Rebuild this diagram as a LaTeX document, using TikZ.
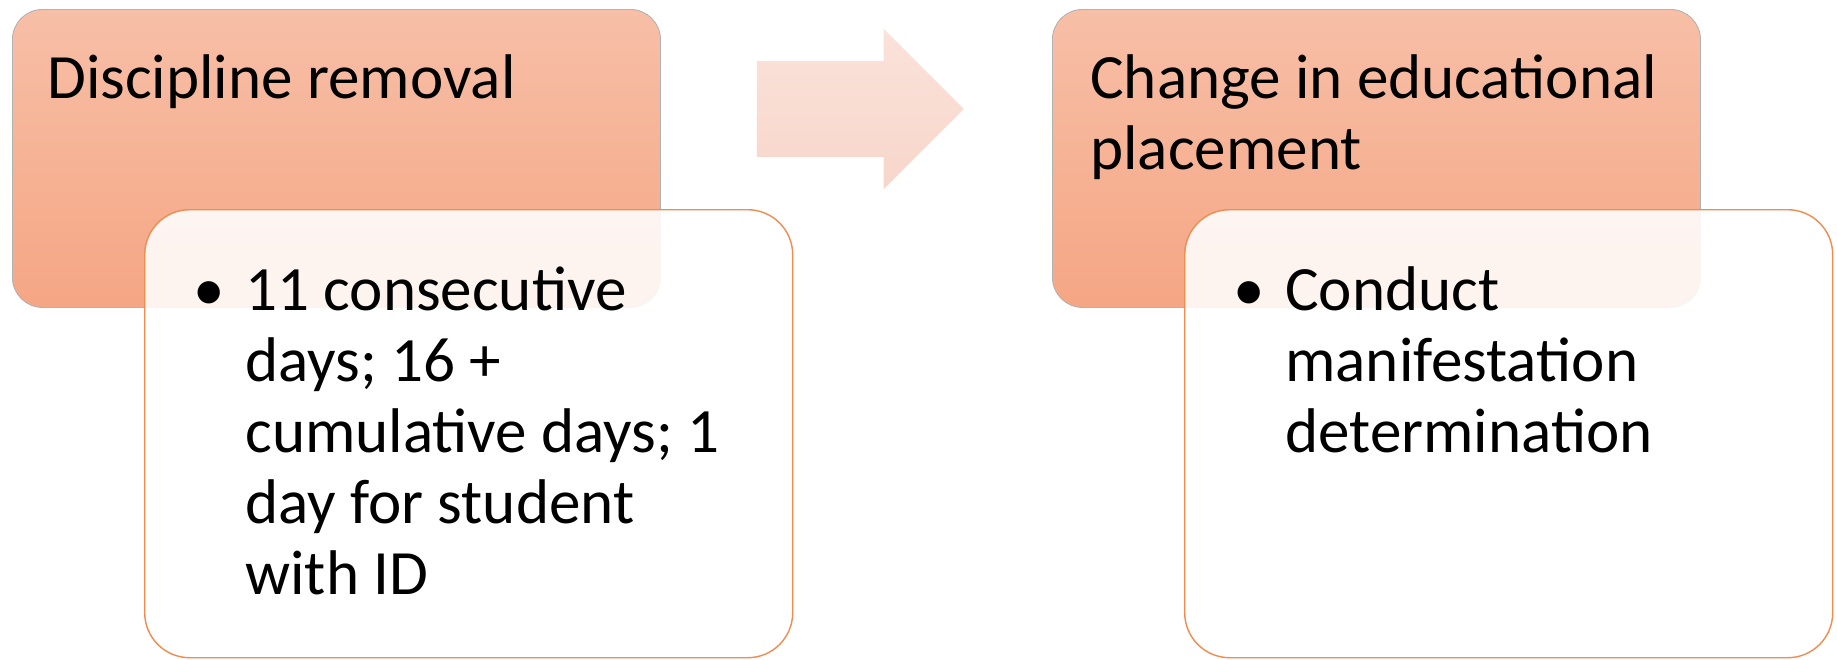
\documentclass[tikz,border=0pt]{standalone}
\usepackage{fontspec}
\setmainfont{Carlito}
\usepackage{tikz}
\usetikzlibrary{shapes.arrows}
\definecolor{salmonTop}{RGB}{247,191,167}
\definecolor{salmonBot}{RGB}{245,166,132}
\definecolor{peachTop}{RGB}{250,226,218}
\definecolor{peachBot}{RGB}{248,214,202}
\definecolor{rimOrange}{RGB}{240,140,80}

\begin{document}
\begin{tikzpicture}[
            headbox/.style = {shape=rectangle, rounded corners=0.6cm, anchor=north west,
                minimum width=12.96cm, minimum height=5.96cm,
                top color=salmonTop, bottom color=salmonBot, draw=black!30, line width=0.5pt}, % upper box
            listbox/.style = {shape=rectangle, rounded corners=0.9cm, anchor=north west,
                minimum width=12.96cm, minimum height=8.96cm,
                fill=white, fill opacity=0.88, draw=rimOrange, line width=0.8pt}, % lower box
            words/.style = {anchor=base west, align=left, inner sep=0pt,
                font=\fontsize{35.9}{40.4}\selectfont} % text style, base = last line
        ]
\useasboundingbox (0,0) rectangle (36.74,-13.18);

\node[headbox] (A) at (0.24,-0.18) {};
\node[listbox] (AA) at (2.88,-4.18) {};
\node[headbox] (B) at (21.04,-0.18) {};
\node[listbox] (BB) at (23.68,-4.18) {};

% block arrow between the two groups
\node[shape=single arrow, single arrow head extend=0.65cm, inner xsep=0pt, inner ysep=0.95cm,
      minimum height=4.14cm, minimum width=3.2cm, top color=peachTop, bottom color=peachBot] (R) at (16.73,-2.18) {};

\node[words] (At) at (0.94,-1.96) {Discipline removal};
\node[words] (AAt) at (4.9,-11.88) {\llap{•\hspace{0.4cm}}11 consecutive\\days; 16 +\\cumulative days; 1\\day for student\\with ID};
\node[words] (Bt) at (21.8,-3.38) {Change in educational\\placement};
\node[words] (BBt) at (25.7,-9.04) {\llap{•\hspace{0.4cm}}Conduct\\manifestation\\determination};

\end{tikzpicture}
\end{document}
